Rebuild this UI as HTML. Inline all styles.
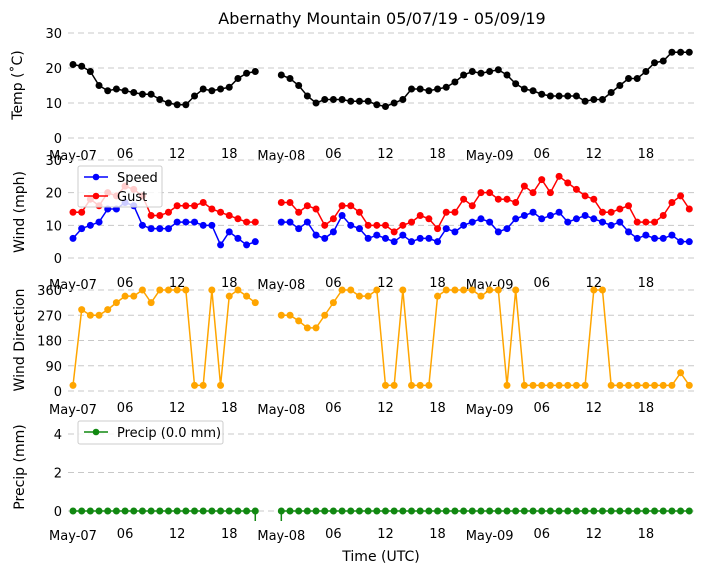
<!DOCTYPE html>
<html><head><meta charset="utf-8"><style>
body{margin:0;background:#fff}
svg{display:block;font-family:"DejaVu Sans","Liberation Sans",sans-serif}
</style></head><body>
<svg id="c" width="704" height="573" viewBox="0 0 704 573">
<text x="382" y="24" text-anchor="middle" font-size="16">Abernathy Mountain 05/07/19 - 05/09/19</text>
<text x="381" y="561" text-anchor="middle" font-size="14">Time (UTC)</text>
</svg>
<script>
const hours = [];
for (let h = 0; h <= 71; h++) { if (h !== 22 && h !== 23) hours.push(h); }
const temp = [21,20.5,19,15,13.5,14,13.5,13,12.5,12.5,11,10,9.5,9.5,12,14,13.5,14,14.5,17,18.5,19,
18,17,15,12,10,11,11,11,10.5,10.5,10.5,9.5,9,10,11,14,14,13.5,14,14.5,16,18,19,18.5,19,19.5,18,15.5,14,13.5,12.5,12,12,12,12,10.5,11,11,13,15,17,17,19,21.5,22,24.5,24.5,24.5];
const speed = [6,9,10,11,15,15,17,16,10,9,9,9,11,11,11,10,10,4,8,6,4,5,
11,11,9,11,7,6,8,13,10,9,6,7,6,5,7,5,6,6,5,9,8,10,11,12,11,8,9,12,13,14,12,13,14,11,12,13,12,11,10,11,8,6,7,6,6,7,5,5];
const gust = [14,14,18,16,20,19,22,21,19,13,13,14,16,16,16,17,15,14,13,12,11,11,
17,17,14,16,15,10,12,16,16,14,10,10,10,8,10,11,13,12,9,14,14,18,16,20,20,18,18,17,22,20,24,20,25,23,21,19,18,14,14,15,16,11,11,11,13,17,19,15];
const dir = [20,290,270,270,290,315,338,338,360,315,360,360,360,360,20,20,360,20,338,360,338,315,
270,270,250,225,225,270,315,360,360,338,338,360,
20,20,360,20,20,20,338,360,360,360,360,338,360,360,20,360,20,20,20,20,20,20,20,20,360,360,20,20,20,20,20,20,20,20,65,20];
const precip = hours.map(() => 0);
const xTickHours = [0,6,12,18,24,30,36,42,48,54,60,66];
const xTickLabels = ["May-07","06","12","18","May-08","06","12","18","May-09","06","12","18"];

const svg = document.getElementById('c');
const NS = 'http://www.w3.org/2000/svg';
function mk(tag, attrs, parent) {
  const e = document.createElementNS(NS, tag);
  for (const k in attrs) e.setAttribute(k, attrs[k]);
  (parent || svg).appendChild(e);
  return e;
}
const X0 = 73, XS = 8.68;
const xs = h => X0 + h * XS;

function panel(p) {
  const g = mk('g', {});
  
  
  const ys = v => p.y0 - (v - p.vmin) * (p.y0 - p.y1) / (p.vmax - p.vmin);
  p.ticks.forEach((t, i) => {
    const l = mk('line', {x1: 68, x2: 694, y1: ys(t), y2: ys(t), stroke: '#c8c8c8', 'stroke-dasharray': '6,4', 'stroke-width': 1}, g);
    
    
    const tx = mk('text', {x: 62, y: ys(t) + 5, 'text-anchor': 'end', 'font-size': 13}, g);
    tx.textContent = t;
    
    
  });
  xTickHours.forEach((h, i) => {
    const tx = mk('text', {x: xs(h), y: p.xlab + (i % 4 === 0 ? 2 : 0), 'text-anchor': 'middle', 'font-size': 13}, g);
    tx.textContent = xTickLabels[i];
    
    
  });
  const yl = mk('text', {x: 0, y: 0, 'text-anchor': 'middle', 'font-size': 14, transform: `translate(${p.labx},${p.laby}) rotate(-90)`}, g);
  yl.textContent = p.label;
  
  
  p.series.forEach(s => {
    let segs = [[]];
    hours.forEach((h, i) => {
      if (i > 0 && h - hours[i - 1] > 1) segs.push([]);
      segs[segs.length - 1].push([xs(h), ys(s.data[i])]);
    });
    segs.forEach(sg => {
      const pl = mk('polyline', {points: sg.map(q => q.join(',')).join(' '), fill: 'none', stroke: s.color, 'stroke-width': 1.5}, g);
      
      
    });
    hours.forEach((h, i) => {
      const c = mk('circle', {cx: xs(h), cy: ys(s.data[i]), r: 3.5, fill: s.color}, g);
      
      
    });
  });
  return {g, ys};
}

panel({name:'temp', vmin:0, vmax:30, y0:138, y1:33, ticks:[0,10,20,30], xlab:158, label:'Temp (˚C)', labx:22, laby:85,
  series:[{name:'temp', data:temp, color:'#000'}]});
panel({name:'wind', vmin:0, vmax:30, y0:258, y1:160, ticks:[0,10,20,30], xlab:287, label:'Wind (mph)', labx:24, laby:212,
  series:[{name:'speed', data:speed, color:'#0000ff'},{name:'gust', data:gust, color:'#ff0000'}]});
panel({name:'direction', vmin:0, vmax:360, y0:391, y1:290, ticks:[0,90,180,270,360], xlab:412, label:'Wind Direction', labx:24, laby:340,
  series:[{name:'direction', data:dir, color:'#ffa500'}]});
panel({name:'precip', vmin:0, vmax:4, y0:511, y1:434, ticks:[0,2,4], xlab:538, label:'Precip (mm)', labx:24, laby:467,
  series:[{name:'precip', data:precip, color:'#118811'}]});
[21,24].forEach(h => {
  const l = mk('line', {x1: xs(h), x2: xs(h), y1: 511, y2: 521, stroke: '#118811', 'stroke-width': 1.5});
  
  
});

function legend(x, y, w, h, items) {
  const g = mk('g', {});
  
  
  mk('rect', {x, y, width: w, height: h, fill: 'rgba(255,255,255,0.8)', stroke: '#ccc', rx: 2}, g);
  items.forEach((it, i) => {
    const yy = y + 11 + i * 19;
    const e = mk('g', {}, g);
    
    
    mk('line', {x1: x + 6, x2: x + 30, y1: yy, y2: yy, stroke: it.color, 'stroke-width': 1.5}, e);
    mk('circle', {cx: x + 18, cy: yy, r: 3.3, fill: it.color}, e);
    const t = mk('text', {x: x + 39, y: yy + 5, 'font-size': 13}, e);
    t.textContent = it.label;
  });
}
legend(78, 166, 84, 41, [{label:'Speed', color:'#0000ff'},{label:'Gust', color:'#ff0000'}]);
legend(78, 421, 145, 23, [{label:'Precip (0.0 mm)', color:'#118811'}]);
</script>
</body></html>
